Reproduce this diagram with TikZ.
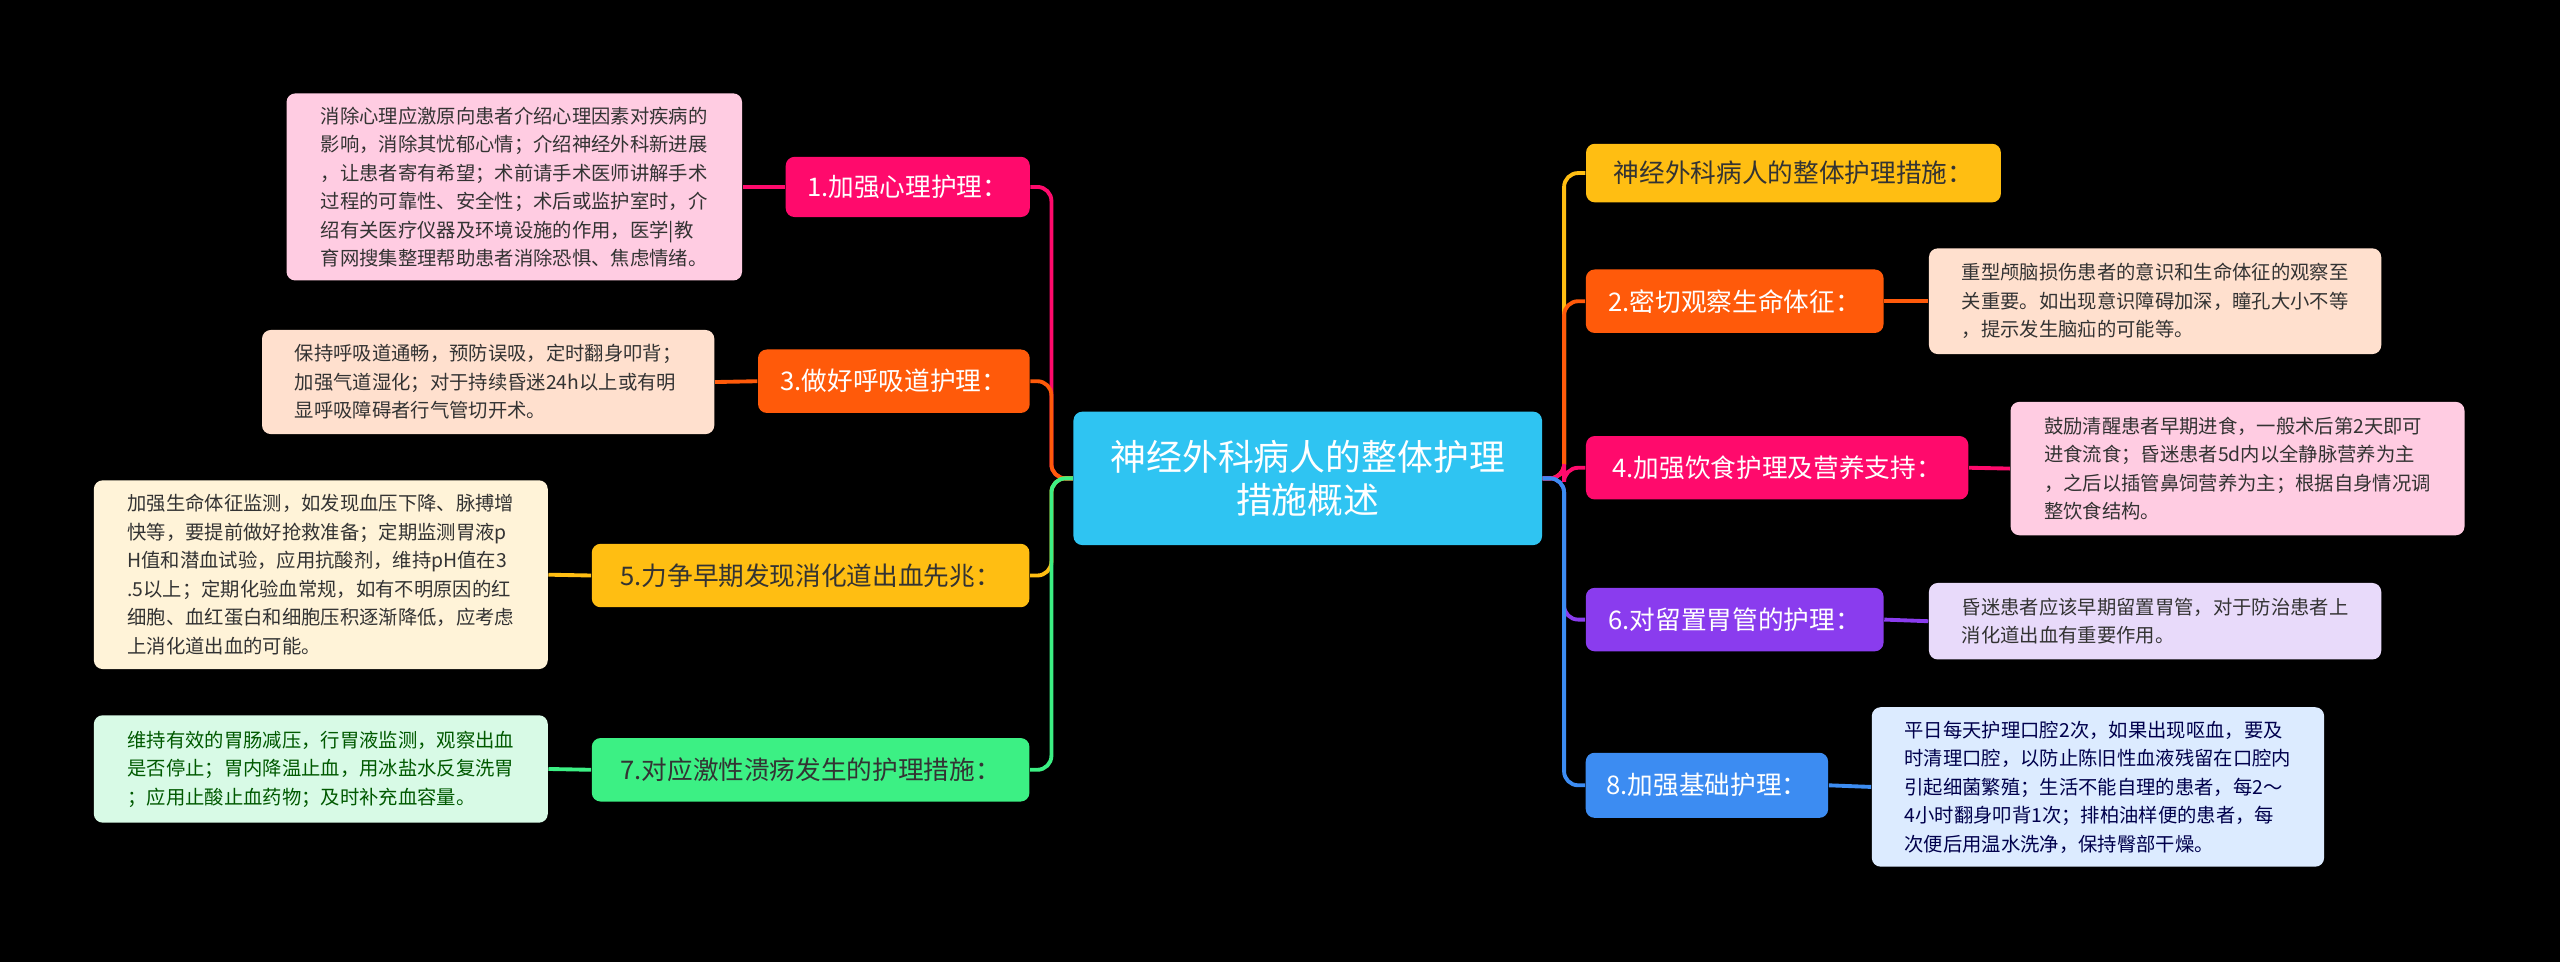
\documentclass[tikz,border=0pt]{standalone}
\usepackage{fontspec}
\setmainfont{Noto Sans CJK SC}
\pgfdeclarelayer{bg}
\pgfsetlayers{bg,main}
\begin{document}
\begin{tikzpicture}[x=0.01633cm,y=-0.01633cm,
  box/.style={rounded corners=2.5pt,inner sep=0pt,align=center},
  main/.style={box,font=\fontsize{7.3}{9}\selectfont},
  det/.style={box,font=\fontsize{5.5}{8.1}\selectfont,align=left},
  ln/.style={line width=1.1pt,rounded corners=4pt},
]
\definecolor{kc}{HTML}{2FC4F2}
\definecolor{km}{HTML}{FF0A6C}\definecolor{kmd}{HTML}{FFCCE2}
\definecolor{ko}{HTML}{FF5A0A}\definecolor{kod}{HTML}{FFE0CE}
\definecolor{ka}{HTML}{FFBE12}\definecolor{kad}{HTML}{FFF3D8}
\definecolor{kg}{HTML}{3CF084}\definecolor{kgd}{HTML}{D8FAE6}
\definecolor{kp}{HTML}{8A3CEE}\definecolor{kpd}{HTML}{E8DAFA}
\definecolor{kb}{HTML}{3C8CF2}\definecolor{kbd}{HTML}{DCEBFF}
\definecolor{ktx}{HTML}{333333}
\begin{pgfonlayer}{bg}
\fill[black] (0,0) rectangle (1568,589);
\end{pgfonlayer}
\node[box,fill=kc,text=white,minimum width=288*0.4629pt,minimum height=82*0.4629pt,font=\fontsize{10.2}{12.5}\selectfont] (c) at (801,293) {神经外科病人的整体护理\\措施概述};
% left
\node[main,fill=km,text=white,minimum width=150*0.4629pt,minimum height=37*0.4629pt] (n1) at (556,114.5) {1.加强心理护理：};
\node[main,fill=ko,text=white,minimum width=167*0.4629pt,minimum height=39*0.4629pt] (n3) at (547.5,233.5) {3.做好呼吸道护理：};
\node[main,fill=ka,text=ktx,minimum width=269*0.4629pt,minimum height=39*0.4629pt] (n5) at (496.5,352.5) {5.力争早期发现消化道出血先兆：};
\node[main,fill=kg,text=ktx,minimum width=269*0.4629pt,minimum height=39*0.4629pt] (n7) at (496.5,471.5) {7.对应激性溃疡发生的护理措施：};
\node[det,fill=kmd,text=ktx,minimum width=280*0.4629pt,minimum height=115*0.4629pt] (d1) at (315,114.5) {消除心理应激原向患者介绍心理因素对疾病的\\影响，消除其忧郁心情；介绍神经外科新进展\\，让患者寄有希望；术前请手术医师讲解手术\\过程的可靠性、安全性；术后或监护室时，介\\绍有关医疗仪器及环境设施的作用，医学|教\\育网搜集整理帮助患者消除恐惧、焦虑情绪。};
\node[det,fill=kod,text=ktx,minimum width=278*0.4629pt,minimum height=64*0.4629pt] (d3) at (299,234) {保持呼吸道通畅，预防误吸，定时翻身叩背；\\加强气道湿化；对于持续昏迷24h以上或有明\\显呼吸障碍者行气管切开术。};
\node[det,fill=kad,text=ktx,minimum width=279*0.4629pt,minimum height=116*0.4629pt] (d5) at (196.5,352) {加强生命体征监测，如发现血压下降、脉搏增\\快等，要提前做好抢救准备；定期监测胃液p\\H值和潜血试验，应用抗酸剂，维持pH值在3\\.5以上；定期化验血常规，如有不明原因的红\\细胞、血红蛋白和细胞压积逐渐降低，应考虑\\上消化道出血的可能。};
\node[det,fill=kgd,text=green!35!black,minimum width=279*0.4629pt,minimum height=66*0.4629pt] (d7) at (196.5,471) {维持有效的胃肠减压，行胃液监测，观察出血\\是否停止；胃内降温止血，用冰盐水反复洗胃\\；应用止酸止血药物；及时补充血容量。};
% right
\node[main,fill=ka,text=ktx,minimum width=255*0.4629pt,minimum height=36*0.4629pt] (r0) at (1098.5,106) {神经外科病人的整体护理措施：};
\node[main,fill=ko,text=white,minimum width=183*0.4629pt,minimum height=39*0.4629pt] (n2) at (1062.5,184.5) {2.密切观察生命体征：};
\node[main,fill=km,text=white,minimum width=235*0.4629pt,minimum height=39*0.4629pt] (n4) at (1088.5,286.5) {4.加强饮食护理及营养支持：};
\node[main,fill=kp,text=white,minimum width=183*0.4629pt,minimum height=39*0.4629pt] (n6) at (1062.5,379.5) {6.对留置胃管的护理：};
\node[main,fill=kb,text=white,minimum width=149*0.4629pt,minimum height=40*0.4629pt] (n8) at (1045.5,481) {8.加强基础护理：};
\node[det,fill=kod,text=ktx,minimum width=278*0.4629pt,minimum height=65*0.4629pt] (d2) at (1320,184.5) {重型颅脑损伤患者的意识和生命体征的观察至\\关重要。如出现意识障碍加深，瞳孔大小不等\\，提示发生脑疝的可能等。};
\node[det,fill=kmd,text=ktx,minimum width=279*0.4629pt,minimum height=82*0.4629pt] (d4) at (1370.5,287) {鼓励清醒患者早期进食，一般术后第2天即可\\进食流食；昏迷患者5d内以全静脉营养为主\\，之后以插管鼻饲营养为主；根据自身情况调\\整饮食结构。};
\node[det,fill=kpd,text=ktx,minimum width=278*0.4629pt,minimum height=47*0.4629pt] (d6) at (1320,380.5) {昏迷患者应该早期留置胃管，对于防治患者上\\消化道出血有重要作用。};
\node[det,fill=kbd,text=blue!30!black,minimum width=278*0.4629pt,minimum height=98*0.4629pt] (d8) at (1285,482) {平日每天护理口腔2次，如果出现呕血，要及\\时清理口腔，以防止陈旧性血液残留在口腔内\\引起细菌繁殖；生活不能自理的患者，每2～\\4小时翻身叩背1次；排柏油样便的患者，每\\次便后用温水洗净，保持臀部干燥。};
% connectors
\coordinate (tl) at (644,293);
\coordinate (tr) at (958,293);
\begin{pgfonlayer}{bg}
\draw[ln,km] (c.west) -- (tl) |- (n1.east);
\draw[ln,ko] (c.west) -- (tl) |- (n3.east);
\draw[ln,ka] (c.west) -- (tl) |- (n5.east);
\draw[ln,kg] (c.west) -- (tl) |- (n7.east);
\draw[ln,ka] (c.east) -- (tr) |- (r0.west);
\draw[ln,ko] (c.east) -- (tr) |- (n2.west);
\draw[ln,km] (c.east) -- (tr) |- (n4.west);
\draw[ln,kp] (c.east) -- (tr) |- (n6.west);
\draw[ln,kb] (c.east) -- (tr) |- (n8.west);
\draw[ln,km] (n1.west) -- (d1.east);
\draw[ln,ko] (n3.west) -- (d3.east);
\draw[ln,ka] (n5.west) -- (d5.east);
\draw[ln,kg] (n7.west) -- (d7.east);
\draw[ln,ko] (n2.east) -- (d2.west);
\draw[ln,km] (n4.east) -- (d4.west);
\draw[ln,kp] (n6.east) -- (d6.west);
\draw[ln,kb] (n8.east) -- (d8.west);
\end{pgfonlayer}
\end{tikzpicture}
\end{document}
